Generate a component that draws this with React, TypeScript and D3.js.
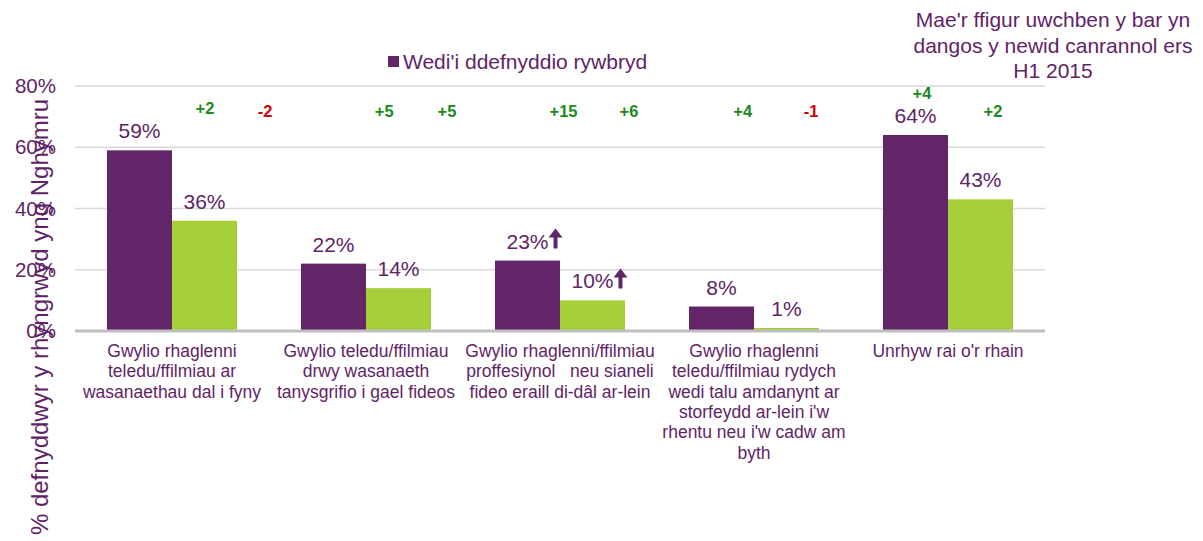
import * as d3 from 'd3';
import React from 'react';

// data
const categories = [
  'Gwylio rhaglenni teledu/ffilmiau ar wasanaethau dal i fyny',
  'Gwylio teledu/ffilmiau drwy wasanaeth tanysgrifio i gael fideos',
  'Gwylio rhaglenni/ffilmiau proffesiynol neu sianeli fideo eraill di-dâl ar-lein',
  'Gwylio rhaglenni teledu/ffilmiau rydych wedi talu amdanynt ar storfeydd ar-lein i\'w rhentu neu i\'w cadw am byth',
  'Unrhyw rai o\'r rhain',
];
const categoryLines = [
  ['Gwylio rhaglenni', 'teledu/ffilmiau ar', 'wasanaethau dal i fyny'],
  ['Gwylio teledu/ffilmiau', 'drwy wasanaeth', 'tanysgrifio i gael fideos'],
  ['Gwylio rhaglenni/ffilmiau', 'proffesiynol   neu sianeli', 'fideo eraill di-dâl ar-lein'],
  ['Gwylio rhaglenni', 'teledu/ffilmiau rydych', 'wedi talu amdanynt ar', 'storfeydd ar-lein i\'w', 'rhentu neu i\'w cadw am', 'byth'],
  ['Unrhyw rai o\'r rhain'],
];
const everUsed = [59, 22, 23, 8, 64];
const secondSeries = [36, 14, 10, 1, 43];
const changeEver = [2, 5, 15, 4, 4];
const changeSecond = [-2, 5, 6, -1, 2];
const sigEver = [false, false, true, false, false];
const sigSecond = [false, false, true, false, false];
const yTicks = [0, 20, 40, 60, 80];
const legendLabel = "Wedi'i ddefnyddio rywbryd";
const noteLines = ["Mae'r ffigur uwchben y bar yn", 'dangos y newid canrannol ers', 'H1 2015'];
const yTitle = '% defnyddwyr y rhyngrwyd yng Nghymru';

const W = 1203;
const H = 541;
const PURPLE = '#622567';
const GREEN = '#a5cf39';
const TEXT = '#5f2466';
const FONT = '"Liberation Sans", Arial, sans-serif';

export default function App() {
  const left = 75, right = 1045, top = 86, bottom = 331;

  const x = d3.scaleBand().domain(categories).range([left, right])
    .paddingInner(0.33).paddingOuter(0.165);
  const xs = d3.scaleBand().domain(['a', 'b']).range([0, x.bandwidth()]);
  const y = d3.scaleLinear().domain([0, 80]).range([bottom, top]);

  // the change figures sit on their own text layer, slightly off the bar centres
  const annA = d3.scalePoint().domain(categories).range([205, 922]);
  const annB = d3.scalePoint().domain(categories).range([265, 993]);

  const arrow = (ax: number, ay: number) =>
    `M${ax - 7},${ay + 9} L${ax},${ay} L${ax + 7},${ay + 9} L${ax + 2},${ay + 9} L${ax + 2},${ay + 20} L${ax - 2},${ay + 20} L${ax - 2},${ay + 9} Z`;

  const series = [
    { key: 'a', values: everUsed, color: PURPLE, sig: sigEver },
    { key: 'b', values: secondSeries, color: GREEN, sig: sigSecond },
  ];

  return (
    <svg width={W} height={H} style={{ position: 'absolute', left: 0, top: 0, background: '#fff' }}
      fontFamily={FONT}>
      {/* gridlines */}
      {yTicks.filter(t => t > 0).map(t => (
        <line key={t} x1={left} x2={right} y1={y(t)} y2={y(t)} stroke="#d9d9d9" strokeWidth={1.3} />
      ))}
      {/* y tick labels */}
      {yTicks.map(t => (
        <text key={'t' + t} x={56} y={y(t) + 7} textAnchor="end" fontSize={20.5} fill={TEXT}>{t}%</text>
      ))}

      {/* bars */}
      {series.map(s => categories.map((c, i) => (
        <rect key={s.key + i} x={(x(c) as number) + (xs(s.key) as number)} y={y(s.values[i])}
          width={xs.bandwidth()} height={bottom - y(s.values[i])} fill={s.color} />
      )))}
      <line x1={left} x2={right} y1={bottom} y2={bottom} stroke="#bfbfbf" strokeWidth={3} />

      {/* value labels */}
      {series.map(s => categories.map((c, i) => {
        const cx = (x(c) as number) + (xs(s.key) as number) + xs.bandwidth() / 2;
        const ly = y(s.values[i]) - 12;
        return (
          <g key={'v' + s.key + i}>
            <text x={cx} y={ly} textAnchor="middle" fontSize={21} fill={TEXT}>{s.values[i]}%</text>
            {s.sig[i] && <path d={arrow(cx + 28, ly - 20)} fill={PURPLE} />}
          </g>
        );
      }))}

      {/* change figures */}
      {categories.map((c, i) => (
        <g key={'c' + i} fontWeight="bold" fontSize={16.5} textAnchor="middle">
          <text x={annA(c)} y={Math.min(117, y(everUsed[i]) - 36)}
            fill={changeEver[i] < 0 ? '#d20000' : '#1d8a1d'}>
            {changeEver[i] > 0 ? '+' + changeEver[i] : changeEver[i]}
          </text>
          <text x={annB(c)} y={117} fill={changeSecond[i] < 0 ? '#d20000' : '#1d8a1d'}>
            {changeSecond[i] > 0 ? '+' + changeSecond[i] : changeSecond[i]}
          </text>
        </g>
      ))}

      {/* category labels */}
      {categories.map((c, i) => (
        <text key={'x' + i} x={(x(c) as number) + x.bandwidth() / 2} y={357} textAnchor="middle"
          fontSize={17.5} fill={TEXT} style={{ whiteSpace: 'pre' }}>
          {categoryLines[i].map((l, j) => (
            <tspan key={j} x={(x(c) as number) + x.bandwidth() / 2} dy={j === 0 ? 0 : 20.3}>{l}</tspan>
          ))}
        </text>
      ))}

      {/* y title */}
      <text transform="translate(48,317) rotate(-90)" textAnchor="middle" fontSize={24} fill={TEXT}>{yTitle}</text>

      {/* legend */}
      <rect x={388} y={56} width={11} height={11} fill={PURPLE} />
      <text x={403} y={69} fontSize={21} fill={TEXT}>{legendLabel}</text>

      {/* note */}
      <text x={1053} y={27} textAnchor="middle" fontSize={21} fill={TEXT}>
        {noteLines.map((l, j) => (
          <tspan key={j} x={1053} dy={j === 0 ? 0 : 25.5}>{l}</tspan>
        ))}
      </text>
    </svg>
  );
}
